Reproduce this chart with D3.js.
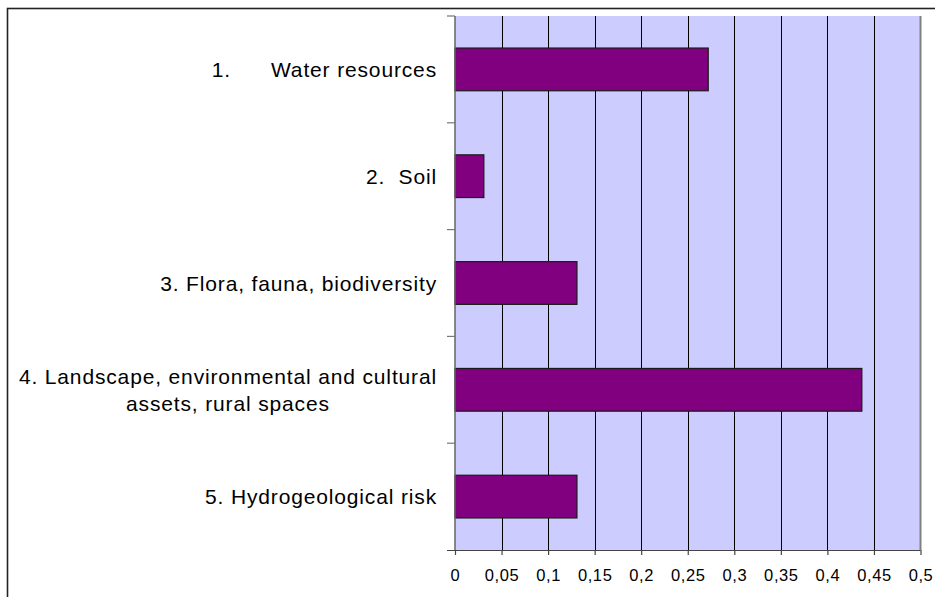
<!DOCTYPE html>
<html><head><meta charset="utf-8">
<script src="https://cdn.jsdelivr.net/npm/d3@7"></script>
<style>
html,body{margin:0;padding:0;background:#fff;}
svg{display:block;}
text{font-family:"Liberation Sans",Arial,Helvetica,sans-serif;fill:#000;}
</style></head>
<body>
<svg id="chart" width="935" height="597"></svg>
<script>
const categories = [
  ["1.      Water resources"],
  ["2.  Soil"],
  ["3. Flora, fauna, biodiversity"],
  ["4. Landscape, environmental and cultural", "assets, rural spaces"],
  ["5. Hydrogeological risk"]
];
const values = [0.272, 0.031, 0.131, 0.437, 0.131];
const xTicks = [0, 0.05, 0.1, 0.15, 0.2, 0.25, 0.3, 0.35, 0.4, 0.45, 0.5];
const xTickLabels = ["0", "0,05", "0,1", "0,15", "0,2", "0,25", "0,3", "0,35", "0,4", "0,45", "0,5"];

const svg = d3.select("#chart");
const L = 455, R = 920.5, T = 16, B = 550;

// outer frame
svg.append("rect").attr("x", 7.5).attr("y", 8.5).attr("width", 1000).attr("height", 1000)
  .attr("fill", "none").attr("stroke", "#222").attr("stroke-width", 1.6);

const x = d3.scaleLinear().domain([0, 0.5]).range([L, R]);
const idx = categories.map((d, i) => i);
const y = d3.scaleBand().domain(idx).range([T, B]).paddingInner(0.6).paddingOuter(0.3);
const step = y.step();

// plot background
svg.append("rect").attr("x", L).attr("y", T).attr("width", R - L).attr("height", B - T).attr("fill", "#CCCCFF");

// gridlines
svg.append("g").selectAll("line").data(xTicks.slice(1, -1)).join("line")
  .attr("x1", d => Math.round(x(d)) + 0.5).attr("x2", d => Math.round(x(d)) + 0.5)
  .attr("y1", T).attr("y2", B).attr("stroke", "#000").attr("stroke-width", 1);

// right border of plot
svg.append("line").attr("x1", R).attr("x2", R).attr("y1", T).attr("y2", B)
  .attr("stroke", "#808080").attr("stroke-width", 2);

// bars
svg.append("g").selectAll("rect").data(values).join("rect")
  .attr("x", x(0)).attr("y", (d, i) => y(i))
  .attr("width", d => x(d) - x(0)).attr("height", y.bandwidth())
  .attr("fill", "#800080").attr("stroke", "#1a1a1a").attr("stroke-width", 1.2);

// bottom axis
const xAxis = d3.axisBottom(x).tickValues(xTicks).tickSize(5).tickPadding(14)
  .tickFormat((d, i) => xTickLabels[i]);
const gx = svg.append("g").attr("transform", `translate(0,${B})`).call(xAxis);
gx.select(".domain").attr("d", `M${L - 8},0.5H${R}`).attr("stroke", "#444").attr("stroke-width", 1.2);
gx.selectAll(".tick line").attr("stroke", "#444").attr("stroke-width", 1.2);
gx.selectAll(".tick text").attr("font-size", "16.5px").attr("letter-spacing", "0.6px")
  .attr("font-family", "Liberation Sans, Arial, sans-serif").attr("fill", "#000");

// left axis line & category boundary ticks
svg.append("line").attr("x1", L).attr("x2", L).attr("y1", T).attr("y2", B)
  .attr("stroke", "#666").attr("stroke-width", 1.5);
const bounds = d3.range(categories.length).map(i => y(i) - step * y.paddingOuter());
svg.append("g").selectAll("line").data(bounds).join("line")
  .attr("x1", L - 8).attr("x2", L).attr("y1", d => d).attr("y2", d => d)
  .attr("stroke", "#777").attr("stroke-width", 1.2);

// category labels
const fs = 21, lh = 26.7, rightEdge = 437;
categories.forEach((lines, i) => {
  const cy = y(i) + y.bandwidth() / 2;
  const t = svg.append("text").attr("font-size", fs + "px").attr("letter-spacing", "0.85px").style("white-space", "pre");
  const n = lines.length;
  const tspans = lines.map((ln, j) => t.append("tspan").text(ln)
    .attr("y", cy + (j - (n - 1) / 2) * lh).attr("dy", "0.36em"));
  const widths = tspans.map(s => s.node().getComputedTextLength());
  const maxW = d3.max(widths);
  const cx = rightEdge - maxW / 2;
  tspans.forEach(s => s.attr("x", cx).attr("text-anchor", "middle"));
});
</script>
</body></html>
